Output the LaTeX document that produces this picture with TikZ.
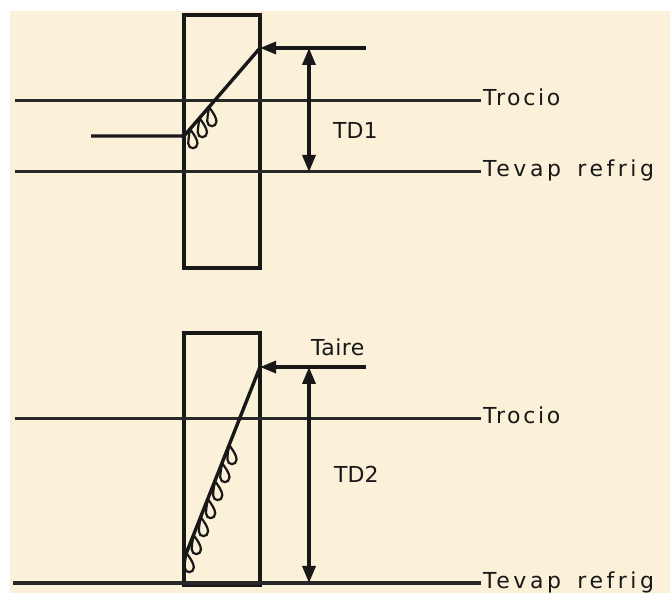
\documentclass[tikz,border=0pt]{standalone}
\usepackage{fontspec}
\setmainfont{DejaVu Sans}
\newfontfamily\cadA[LetterSpace=12]{DejaVu Sans}
\newfontfamily\cadB[LetterSpace=16]{DejaVu Sans}
\newfontfamily\cadC[LetterSpace=2]{DejaVu Sans}
\newfontfamily\cadD{DejaVu Sans}
\usetikzlibrary{arrows.meta}
\definecolor{paper}{RGB}{251,240,216}
\definecolor{ink}{RGB}{24,24,24}
\definecolor{tline}{RGB}{40,40,40}
\begin{document}
\begin{tikzpicture}[x=1pt,y=-1pt,
  coil/.style={draw=ink,line width=3.4pt,minimum width=76pt,inner sep=0pt,outer sep=0pt,anchor=north west},
  templine/.style={draw=tline,line width=3pt},
  pipe/.style={draw=ink,line width=3.4pt},
  flow/.style={draw=ink,line width=3.4pt,-{Triangle[length=16pt,width=12pt]}},
  dim/.style={draw=ink,line width=3.4pt,{Triangle[length=17pt,width=13pt]}-{Triangle[length=17pt,width=13pt]}},
  lbl/.style={text=ink,inner sep=0pt,anchor=base west},
  droplet/.pic={\draw[ink,line width=2.2pt,scale=1.15] (0,0) .. controls (3,4) and (6.5,9) .. (6.5,12.5)
      .. controls (6.5,18) and (-1.5,18) .. (-1.5,12.5) .. controls (-1.5,8) and (-0.5,4) .. (0,0);}
]
\useasboundingbox (0,0) rectangle (670,593);
\fill[white] (0,0) rectangle (670,593);
\fill[paper] (10,11) rectangle (670,593);

% ---------- top diagram ----------
\node[coil,minimum height=253pt] (box1) at (184,15) {};
\coordinate (a1) at (15,101);  \coordinate (b1) at (481,101);
\coordinate (c1) at (15,172);  \coordinate (d1) at (481,172);
\draw[templine] (a1) -- (b1);
\draw[templine] (c1) -- (d1);
\node[lbl,font=\cadA\fontsize{22}{26}\selectfont] (troc1) at (483,106) {Trocio};
\node[lbl,font=\cadB\fontsize{22}{26}\selectfont] (tev1) at (483,177) {Tevap\hspace{6pt} refrig};

\coordinate (in1) at (91,136);
\coordinate (p1) at (184,136);
\coordinate (q1) at (260,48);
\coordinate (r1) at (366,48);
\draw[pipe] (in1) -- (p1) -- (q1);
\draw[flow] (r1) -- (q1);
\coordinate (da1) at (309,48);
\coordinate (db1) at (309,172);
\draw[dim] (da1) -- (db1);
\node[lbl,font=\cadD\fontsize{22}{26}\selectfont] (td1) at (333,139) {TD1};

\foreach \x in {190,199.5,209}{
  \pic at (\x,{136-(\x-184)*88/76}) {droplet};
}

% ---------- bottom diagram ----------
\node[coil,minimum height=252pt] (box2) at (184,333) {};
\coordinate (a2) at (15,419);  \coordinate (b2) at (481,419);
\coordinate (c2) at (13,583);  \coordinate (d2) at (481,583);
\draw[templine] (a2) -- (b2);
\draw[templine,line width=3.6pt] (c2) -- (d2);
\node[lbl,font=\cadA\fontsize{22}{26}\selectfont] (troc2) at (483,424) {Trocio};
\node[lbl,font=\cadB\fontsize{22}{26}\selectfont] (tev2) at (483,589) {Tevap\hspace{6pt} refrig};

\coordinate (p2) at (184,559);
\coordinate (q2) at (260,367);
\coordinate (r2) at (366,367);
\draw[pipe] (p2) -- (q2);
\draw[flow] (r2) -- (q2);
\node[lbl,font=\cadC\fontsize{22}{26}\selectfont] (taire) at (311,356) {Taire};
\coordinate (da2) at (309,367);
\coordinate (db2) at (309,583);
\draw[dim] (da2) -- (db2);
\node[lbl,font=\cadD\fontsize{22}{26}\selectfont] (td2) at (334,483) {TD2};

\foreach \y in {553,535,517,499,481,463,445}{
  \pic at ({184+(559-\y)*76/192},\y) {droplet};
}
\end{tikzpicture}
\end{document}
